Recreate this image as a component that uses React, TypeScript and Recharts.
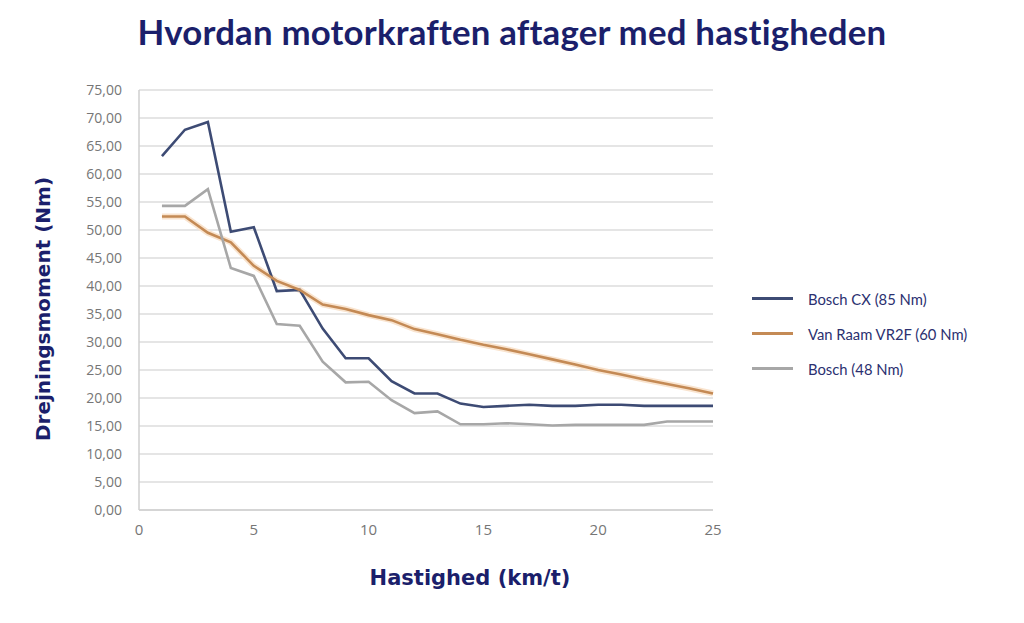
import { LineChart, Line, XAxis, YAxis, CartesianGrid } from "recharts";

const speeds = [1, 2, 3, 4, 5, 6, 7, 8, 9, 10, 11, 12, 13, 14, 15, 16, 17, 18, 19, 20, 21, 22, 23, 24, 25];

const boschCx = [63.2, 67.9, 69.3, 49.7, 50.5, 39.1, 39.3, 32.4, 27.1, 27.1, 23.0, 20.8, 20.8, 19.0, 18.4, 18.6, 18.8, 18.6, 18.6, 18.8, 18.8, 18.6, 18.6, 18.6, 18.6];
const vanRaam = [52.4, 52.4, 49.5, 47.8, 43.6, 40.9, 39.3, 36.7, 35.9, 34.8, 33.9, 32.3, 31.4, 30.4, 29.5, 28.7, 27.8, 26.9, 26.0, 25.0, 24.2, 23.3, 22.5, 21.7, 20.8];
const bosch48 = [54.3, 54.3, 57.3, 43.2, 41.8, 33.2, 32.9, 26.5, 22.8, 22.9, 19.6, 17.3, 17.6, 15.3, 15.3, 15.5, 15.3, 15.1, 15.2, 15.2, 15.2, 15.2, 15.8, 15.8, 15.8];

const xTicks = [0, 5, 10, 15, 20, 25];
const yTicks = [0, 5, 10, 15, 20, 25, 30, 35, 40, 45, 50, 55, 60, 65, 70, 75];

const series = [
  { key: "boschCx", name: "Bosch CX (85 Nm)", color: "#3d4b74" },
  { key: "vanRaam", name: "Van Raam VR2F (60 Nm)", color: "#c48a55" },
  { key: "bosch48", name: "Bosch (48 Nm)", color: "#a7a7a7" },
];

const data = speeds.map((s, i) => ({
  speed: s,
  boschCx: boschCx[i],
  vanRaam: vanRaam[i],
  bosch48: bosch48[i],
}));

const navy = "#1b1f6b";

function LegendBox() {
  return (
    <div style={{ position: "absolute", left: 752, top: 281 }}>
      {series.map((s) => (
        <div key={s.key} style={{ display: "flex", alignItems: "center", height: 35 }}>
          <div style={{ width: 41, height: 3, background: s.color, marginRight: 15 }} />
          <span style={{ fontFamily: "Lato", fontSize: 14.8, color: "#2b3070" }}>{s.name}</span>
        </div>
      ))}
    </div>
  );
}

export default function App() {
  return (
    <div style={{ position: "absolute", left: 0, top: 0, width: 1024, height: 623, background: "#fff" }}>
      <LineChart
        width={1024}
        height={623}
        data={data}
        margin={{ top: 90, right: 311, bottom: 83, left: 79 }}
        style={{ position: "absolute", left: 0, top: 0 }}
      >
        <CartesianGrid vertical={false} stroke="#dcdcdc" strokeWidth={1.3} />
        <XAxis
          dataKey="speed"
          type="number"
          domain={[0, 25]}
          ticks={xTicks}
          height={30}
          axisLine={{ stroke: "#cfcfcf", strokeWidth: 1.5 }}
          tickLine={false}
          tickSize={0}
          tickMargin={14}
          tick={{ fill: "#767676", fontFamily: "Open Sans", fontSize: 15 }}
        />
        <YAxis
          type="number"
          domain={[0, 75]}
          ticks={yTicks}
          width={60}
          interval={0}
          axisLine={{ stroke: "#cfcfcf", strokeWidth: 1.5 }}
          tickLine={false}
          tickSize={0}
          tickMargin={17}
          tickFormatter={(v: number) => v.toFixed(2).replace(".", ",")}
          tick={{ fill: "#767676", fontFamily: "Open Sans", fontSize: 14 }}
        />
        <Line
          dataKey="vanRaam"
          stroke="#f9e4cf"
          strokeWidth={6}
          dot={false}
          legendType="none"
          isAnimationActive={false}
        />
        {series.map((s) => (
          <Line
            key={s.key}
            dataKey={s.key}
            name={s.name}
            stroke={s.color}
            strokeWidth={2.6}
            dot={false}
            isAnimationActive={false}
          />
        ))}
      </LineChart>
      <div
        style={{
          position: "absolute",
          left: 0,
          top: 11,
          width: 1024,
          textAlign: "center",
          fontFamily: "Lato",
          fontWeight: 700,
          fontSize: 34.8,
          color: navy,
          letterSpacing: 0.2,
        }}
      >
        Hvordan motorkraften aftager med hastigheden
      </div>
      <div
        style={{
          position: "absolute",
          left: 43,
          top: 309,
          transform: "translate(-50%, -50%) rotate(-90deg)",
          whiteSpace: "nowrap",
          fontFamily: "DejaVu Sans",
          fontWeight: 700,
          fontSize: 20,
          color: navy,
        }}
      >
        Drejningsmoment (Nm)
      </div>
      <div
        style={{
          position: "absolute",
          left: 470,
          top: 578,
          transform: "translate(-50%, -50%)",
          whiteSpace: "nowrap",
          fontFamily: "DejaVu Sans",
          fontWeight: 700,
          fontSize: 21,
          color: navy,
        }}
      >
        Hastighed (km/t)
      </div>
      <LegendBox />
    </div>
  );
}
